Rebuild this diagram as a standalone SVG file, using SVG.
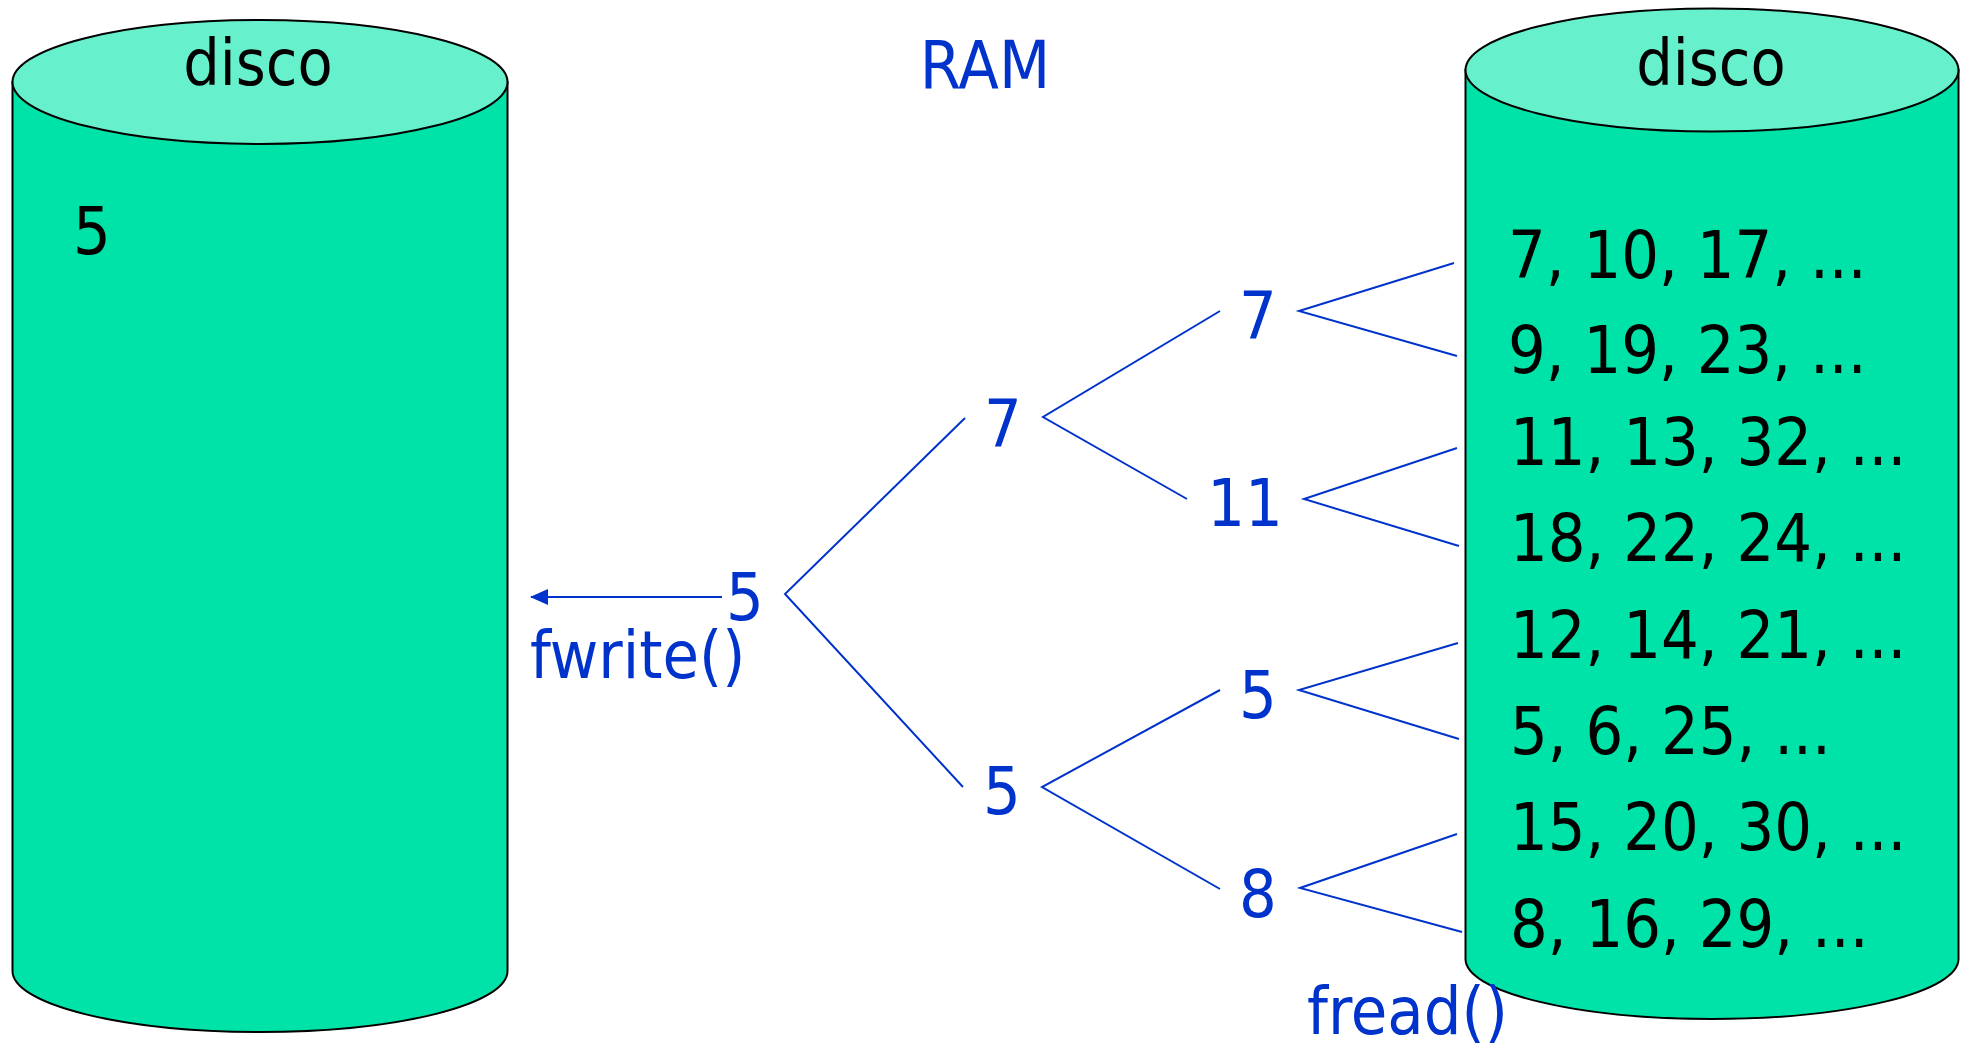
<svg xmlns="http://www.w3.org/2000/svg" width="1964" height="1048" viewBox="0 0 1964 1048">
<style>
text{font-family:"DejaVu Sans Condensed","DejaVu Sans",sans-serif;font-stretch:condensed;font-size:66px}
.blk{fill:#000}
.blu{fill:#0033CC}
.body{fill:#00E3A8;stroke:#000;stroke-width:2}
.top{fill:#66F0CC;stroke:#000;stroke-width:2}
.ln{stroke:#0033CC;stroke-width:2;fill:none}
</style>
<defs>
<marker id="ah" markerWidth="18" markerHeight="16" refX="17" refY="8" orient="auto" markerUnits="userSpaceOnUse">
<path d="M0,0 L18,8 L0,16 Z" fill="#0033CC"/>
</marker>
</defs>
<rect width="1964" height="1048" fill="#fff"/>
<g id="disco-left">
<path class="body" d="M12.5,82 L12.5,971 A247.5,61 0 0 0 507.5,971 L507.5,82 Z"/>
<ellipse class="top" cx="260" cy="82" rx="247.5" ry="62"/>
<text class="blk" x="258" y="85" text-anchor="middle" style="font-size:64px">disco</text>
<text class="blk" x="73" y="254">5</text>
</g>
<g id="disco-right">
<path class="body" d="M1465.5,70 L1465.5,959 A246.5,60 0 0 0 1958.5,959 L1958.5,70 Z"/>
<ellipse class="top" cx="1712" cy="70" rx="246.5" ry="61.5"/>
<text class="blk" x="1711" y="85" text-anchor="middle" style="font-size:64px">disco</text>
<text class="blk" x="1508" y="278">7, 10, 17, ...</text>
<text class="blk" x="1508" y="373">9, 19, 23, ...</text>
<text class="blk" x="1510" y="465">11, 13, 32, ...</text>
<text class="blk" x="1510" y="561">18, 22, 24, ...</text>
<text class="blk" x="1510" y="658">12, 14, 21, ...</text>
<text class="blk" x="1510" y="754">5, 6, 25, ...</text>
<text class="blk" x="1510" y="850">15, 20, 30, ...</text>
<text class="blk" x="1510" y="947">8, 16, 29, ...</text>
</g>
<g id="ram"><text class="blu" x="985" y="88" text-anchor="middle">RAM</text></g>
<g id="connectors">
<line class="ln" x1="722" y1="597" x2="531" y2="597" marker-end="url(#ah)"/>
<polyline class="ln" points="965,418 785,594 963,787"/>
<polyline class="ln" points="1220,311 1043,417 1187,499"/>
<polyline class="ln" points="1220,690 1042,787 1220,889"/>
<polyline class="ln" points="1454,263 1299,311 1457,356"/>
<polyline class="ln" points="1457,448 1304,499 1459,546"/>
<polyline class="ln" points="1458,643 1299,690 1459,739"/>
<polyline class="ln" points="1457,834 1300,888 1462,932"/>
</g>
<g id="n-root"><text class="blu" x="745" y="620" text-anchor="middle">5</text></g>
<g id="fwrite"><text class="blu" x="530" y="678">fwrite()</text></g>
<g id="n-7a"><text class="blu" x="1003" y="447" text-anchor="middle">7</text></g>
<g id="n-5a"><text class="blu" x="1002" y="814" text-anchor="middle">5</text></g>
<g id="n-7b"><text class="blu" x="1258" y="339" text-anchor="middle">7</text></g>
<g id="n-11"><text class="blu" x="1245" y="526" text-anchor="middle">11</text></g>
<g id="n-5b"><text class="blu" x="1258" y="718" text-anchor="middle">5</text></g>
<g id="n-8"><text class="blu" x="1258" y="917" text-anchor="middle">8</text></g>
<g id="fread"><text class="blu" x="1307" y="1034">fread()</text></g>
</svg>
